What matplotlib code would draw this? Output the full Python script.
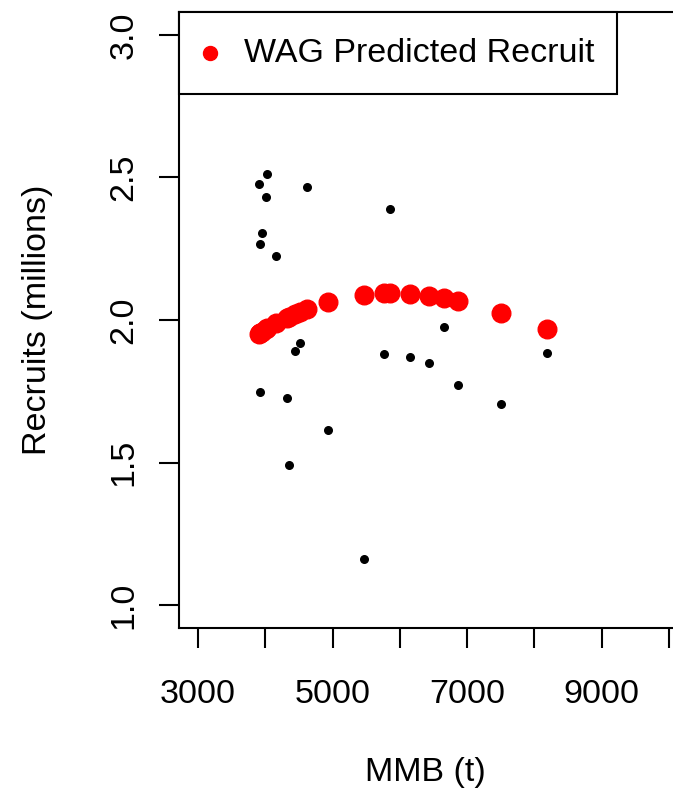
import matplotlib.pyplot as plt

plt.rcParams['font.family'] = ['Liberation Sans', 'DejaVu Sans']

# Observed spawning biomass (t) and recruits (millions)
mmb = [3911, 3926, 3926, 3946, 4006, 4030, 4159, 4318, 4352, 4446, 4516,
       4615, 4936, 5467, 5769, 5853, 6155, 6428, 6660, 6863, 7507, 8181]
recruits = [2.478, 1.746, 2.266, 2.304, 2.433, 2.511, 2.226, 1.725, 1.490,
            1.891, 1.918, 2.467, 1.613, 1.162, 1.881, 2.388, 1.870, 1.850,
            1.977, 1.772, 1.705, 1.884]

# Stock-recruit model predictions at the same biomass values
predicted = [1.950, 1.953, 1.953, 1.957, 1.968, 1.972, 1.990, 2.008, 2.012,
             2.022, 2.029, 2.038, 2.064, 2.089, 2.095, 2.096, 2.092, 2.084,
             2.076, 2.066, 2.026, 1.968]

xticks = [3000, 4000, 5000, 6000, 7000, 8000, 9000, 10000]
xtick_labels = ['3000', '', '5000', '', '7000', '', '9000', '']
yticks = [1.0, 1.5, 2.0, 2.5, 3.0]

FS = 24.5
W, H = 673, 796
fig = plt.figure(figsize=(W / 100, H / 100), dpi=100)
# plot region runs a little past the right edge of the figure
left, right, top, bottom = 179, 688, 12, 628
ax = fig.add_axes([left / W, (H - bottom) / H, (right - left) / W, (bottom - top) / H])

ax.scatter(mmb, recruits, s=30, color='black', zorder=2)
ax.scatter(mmb, predicted, s=180, color='red', zorder=3,
           label='WAG Predicted Recruit')

ax.set_xlim(3000 - 0.04 * 7000, 10000 + 0.04 * 7000)
ax.set_ylim(1.0 - 0.04 * 2.0, 3.0 + 0.04 * 2.0)

ax.set_xticks(xticks)
ax.set_xticklabels(xtick_labels)
ax.set_yticks(yticks)
ax.set_yticklabels([f'{v:.1f}' for v in yticks], rotation=90, va='center')

for s in ax.spines.values():
    s.set_linewidth(1.5)
ax.tick_params(axis='both', direction='out', length=14.5, width=1.5,
               labelsize=FS, color='black')
ax.tick_params(axis='x', pad=22)
ax.tick_params(axis='y', pad=14)

fig.text(425 / W, 1 - 773 / H, 'MMB (t)', fontsize=FS, ha='center', va='center')
fig.text(38 / W, 1 - 320 / H, 'Recruits (millions)', fontsize=FS,
         rotation=90, ha='center', va='center')

# legend box pinned to the top-left corner, fixed width
leg_w = (617 - left) / (right - left)
leg = ax.legend(loc='upper left', bbox_to_anchor=(0, 0, leg_w, 1), mode='expand',
                borderaxespad=0, fancybox=False, edgecolor='black',
                framealpha=1, fontsize=FS, borderpad=0.75, handlelength=0.3,
                handletextpad=0.85, markerscale=0.75)
leg.get_frame().set_linewidth(1.5)

fig.savefig('out.png', dpi=100)
